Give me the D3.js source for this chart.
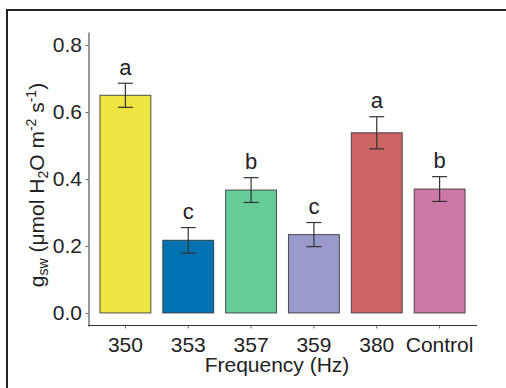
<!DOCTYPE html>
<html>
<head>
<meta charset="utf-8">
<script src="https://cdn.jsdelivr.net/npm/d3@7"></script>
<style>
  html, body { margin: 0; padding: 0; background: #fff; }
  svg { display: block; font-family: "Liberation Sans", Arial, sans-serif; }
</style>
</head>
<body>
<svg id="chart" width="506" height="388"></svg>
<script>
// Stomatal conductance by sound frequency treatment
const categories = ["350", "353", "357", "359", "380", "Control"];
const means      = [0.650, 0.217, 0.367, 0.234, 0.538, 0.370];
const errors     = [0.036, 0.038, 0.037, 0.036, 0.048, 0.037];
const groups     = ["a", "c", "b", "c", "a", "b"];
const fills      = ["#F0E442", "#0072B2", "#66CC99", "#9999CC", "#CC6666", "#CC79A7"];
const yTicks     = [0.0, 0.2, 0.4, 0.6, 0.8];

const svg = d3.select("#chart");

// outer frame
svg.append("rect")
  .attr("x", 7).attr("y", 10)
  .attr("width", 700).attr("height", 600)
  .attr("fill", "none").attr("stroke", "#222").attr("stroke-width", 2);

const x = d3.scaleBand()
  .domain(categories)
  .range([88, 477])
  .paddingInner(0.19)
  .paddingOuter(0.19);

const y = d3.scaleLinear()
  .domain([-0.039, 0.839])
  .range([326, 32]);

// bars
svg.append("g").selectAll("rect")
  .data(categories)
  .join("rect")
  .attr("x", d => x(d))
  .attr("width", x.bandwidth())
  .attr("y", (d, i) => y(means[i]))
  .attr("height", (d, i) => y(0) - y(means[i]))
  .attr("fill", (d, i) => fills[i])
  .attr("stroke", "#333")
  .attr("stroke-opacity", 0.85)
  .attr("stroke-width", 1);

// error bars
const eb = svg.append("g")
  .attr("stroke", "#333")
  .attr("stroke-width", 1.2)
  .attr("fill", "none");
const capHalf = 7.5;
categories.forEach((c, i) => {
  const cx = x(c) + x.bandwidth() / 2;
  const hi = y(means[i] + errors[i]);
  const lo = y(means[i] - errors[i]);
  eb.append("line").attr("x1", cx).attr("x2", cx).attr("y1", hi).attr("y2", lo);
  eb.append("line").attr("x1", cx - capHalf).attr("x2", cx + capHalf).attr("y1", hi).attr("y2", hi);
  eb.append("line").attr("x1", cx - capHalf).attr("x2", cx + capHalf).attr("y1", lo).attr("y2", lo);
});

// significance letters
svg.append("g").selectAll("text")
  .data(categories)
  .join("text")
  .attr("x", d => x(d) + x.bandwidth() / 2)
  .attr("y", (d, i) => y(means[i] + errors[i]) - 8.5)
  .attr("text-anchor", "middle")
  .attr("font-size", 22)
  .attr("fill", "#222")
  .text((d, i) => groups[i]);

// y axis
const yAxis = svg.append("g")
  .attr("transform", "translate(88.5,0)")
  .call(d3.axisLeft(y).tickValues(yTicks).tickFormat(d3.format(".1f"))
    .tickSize(3).tickSizeOuter(0).tickPadding(3.5));
// x axis
const xAxis = svg.append("g")
  .attr("transform", "translate(0,325.5)")
  .call(d3.axisBottom(x).tickSize(3).tickSizeOuter(0).tickPadding(9));

[yAxis, xAxis].forEach(g => {
  g.select(".domain").attr("stroke", "#333").attr("stroke-width", 1);
  g.selectAll(".tick line").attr("stroke", "#666").attr("stroke-width", 1);
  g.selectAll(".tick text")
    .attr("font-size", 21)
    .attr("font-family", "Liberation Sans, Arial, sans-serif")
    .attr("fill", "#222");
});
xAxis.select(".domain").attr("d", "M88,0H477");

// axis titles
svg.append("text")
  .attr("x", 277).attr("y", 372)
  .attr("text-anchor", "middle")
  .attr("font-size", 21)
  .attr("fill", "#222")
  .text("Frequency (Hz)");

const yt = svg.append("text")
  .attr("transform", "translate(44,185) rotate(-90)")
  .attr("text-anchor", "middle")
  .attr("font-size", 21)
  .attr("fill", "#222");
yt.append("tspan").text("g");
yt.append("tspan").attr("font-size", 14).attr("dy", 4).text("sw");
yt.append("tspan").attr("dy", -4).text(" (μmol H");
yt.append("tspan").attr("font-size", 14).attr("dy", 4).text("2");
yt.append("tspan").attr("dy", -4).text("O m");
yt.append("tspan").attr("font-size", 14).attr("dy", -8).text("-2");
yt.append("tspan").attr("dy", 8).text(" s");
yt.append("tspan").attr("font-size", 14).attr("dy", -8).text("-1");
yt.append("tspan").attr("dy", 8).text(")");
</script>
</body>
</html>
